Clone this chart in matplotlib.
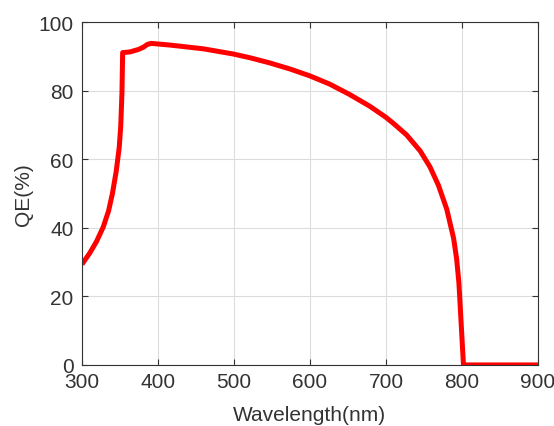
import numpy as np
import matplotlib.pyplot as plt

plt.rcParams['font.family'] = ['Liberation Sans', 'DejaVu Sans']

# quantum efficiency curve
wavelength = [300, 310, 319, 328, 335, 340, 345, 349, 351, 352.6, 353.5,
              363, 374, 381, 386, 391, 416, 460, 499, 521, 547, 574,
              600, 626, 652, 679, 700, 710, 727, 745, 758, 769, 780,
              789, 793, 796, 802, 900]
qe = [29.4, 32.6, 36.0, 40.3, 45.0, 50.0, 56.5, 63.5, 69.8, 79.5, 91.2,
      91.4, 92.1, 92.8, 93.6, 93.9, 93.4, 92.3, 90.8, 89.7, 88.2, 86.4,
      84.4, 82.0, 79.0, 75.5, 72.3, 70.5, 67.2, 62.5, 57.8, 52.5, 45.5,
      37.0, 31.0, 24.0, 0.0, 0.0]

xticks = [300, 400, 500, 600, 700, 800, 900]
yticks = [0, 20, 40, 60, 80, 100]

fig = plt.figure(figsize=(5.54, 4.27), dpi=100)
ax = fig.add_axes([0.148, 0.143, 0.823, 0.802])
ax.plot(wavelength, qe, color='#ff0000', linewidth=3.6,
        solid_joinstyle='round', solid_capstyle='butt')

ax.set_xlim(300, 900)
ax.set_ylim(0, 100)
ax.set_xticks(xticks)
ax.set_yticks(yticks)
ax.grid(True, color='#dcdcdc', linewidth=0.8)
ax.set_axisbelow(True)

ax.tick_params(direction='in', length=4, width=0.8, top=True, right=True,
               labelsize=15, colors='#333333')
ax.tick_params(axis='x', pad=5)
ax.tick_params(axis='y', pad=6)
for s in ax.spines.values():
    s.set_color('#333333')
    s.set_linewidth(0.8)

ax.set_xlabel('Wavelength(nm)', fontsize=15, color='#333333', labelpad=10)
ax.set_ylabel('QE(%)', fontsize=15, color='#333333', labelpad=4)

fig.savefig('out.png', dpi=100)
